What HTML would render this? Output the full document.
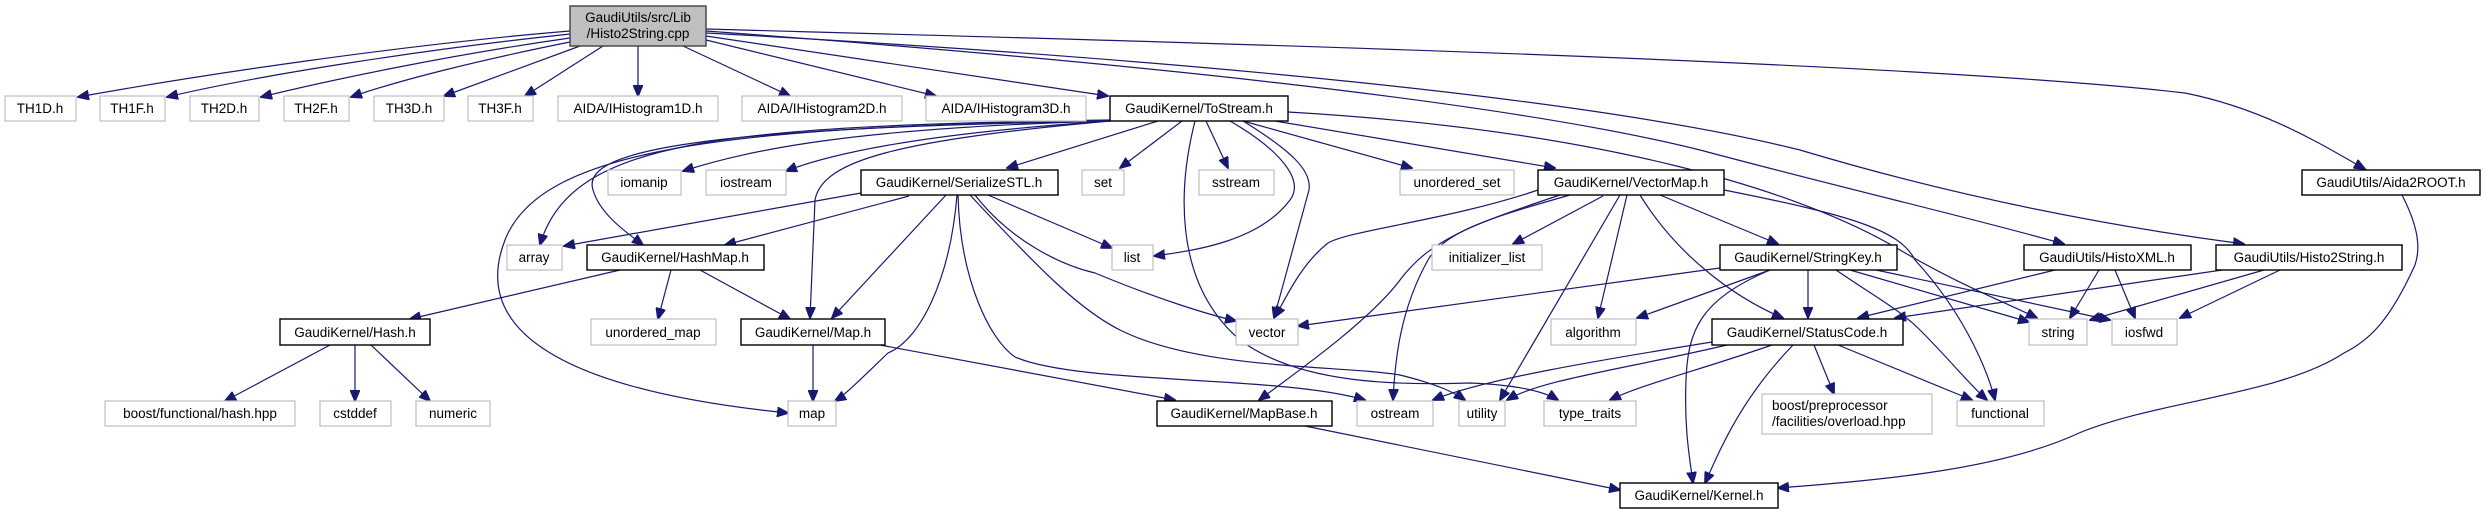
<!DOCTYPE html>
<html><head><meta charset="utf-8"><style>
html,body{margin:0;padding:0;background:#fff;}
svg{display:block;}
text{font-family:"Liberation Sans",sans-serif;font-size:13.5px;fill:#000;text-anchor:middle;}
.g{fill:#fff;stroke:#bfbfbf;stroke-width:1.2;}
.b{fill:#fff;stroke:#000;stroke-width:1.4;}
path{fill:none;stroke:#191970;stroke-width:1.2;}
</style></head><body>
<svg width="2486" height="515" viewBox="0 0 2486 515" xmlns="http://www.w3.org/2000/svg">
<defs><marker id="a" markerWidth="12" markerHeight="10" refX="11" refY="5" orient="auto" markerUnits="userSpaceOnUse"><path d="M0,0 L12,5 L0,10 Z" style="fill:#191970;stroke:#191970;stroke-width:1"/></marker></defs>
<g marker-end="url(#a)">
<!-- cpp edges -->
<path d="M570,31 C400,45 200,75 78,97"/>
<path d="M570,34 C420,50 260,75 167,97"/>
<path d="M570,38 C450,55 330,80 261,97"/>
<path d="M570,42 C480,60 400,80 351,97"/>
<path d="M580,46 L444,96"/>
<path d="M603,46 L525,96"/>
<path d="M638,46 L638,96"/>
<path d="M683,46 L790,96"/>
<path d="M706,40 L936,96"/>
<path d="M706,36 L1108,96"/>
<path d="M706,29 C1100,40 1900,60 2185,93 C2270,110 2330,150 2365,169"/>
<path d="M706,31 C1100,60 1500,100 1700,150 C1850,190 1980,220 2064,244"/>
<path d="M706,33 C1200,60 1600,100 1800,150 C1950,195 2100,225 2244,244"/>
<!-- ToStream edges -->
<path d="M1158,121 L1007,168"/>
<path d="M1182,121 L1120,168"/>
<path d="M1206,121 L1228,168"/>
<path d="M1243,121 L1412,168"/>
<path d="M1275,121 L1555,168"/>
<path d="M1230,121 C1280,150 1305,180 1290,200 C1260,240 1200,250 1154,256"/>
<path d="M1243,121 C1290,150 1312,170 1309,190 L1274,318"/>
<path d="M1195,121 C1180,180 1170,280 1240,340 C1300,385 1400,385 1470,383 C1520,385 1545,392 1558,400"/>
<path d="M1288,112 C1600,130 1800,190 1900,250 C1960,285 2000,300 2037,318"/>
<path d="M1110,121 C850,128 750,150 683,171"/>
<path d="M1110,121 C900,135 820,158 786,171"/>
<path d="M1110,120 C720,126 570,140 540,245"/>
<path d="M1110,121 C700,128 580,150 593,190 C600,215 630,235 643,245"/>
<path d="M1110,121 C720,126 540,150 505,240 C470,330 560,390 788,413"/>
<path d="M1110,121 C900,140 822,160 815,200 L810,318"/>
<!-- SerializeSTL -->
<path d="M861,193 L564,246"/>
<path d="M909,196 L725,245"/>
<path d="M946,195 L832,318"/>
<path d="M957,195 C950,280 920,340 888,353 C865,375 845,395 835,401"/>
<path d="M988,195 L1112,248"/>
<path d="M975,195 C1010,240 1060,265 1095,273 C1160,300 1210,315 1236,321"/>
<path d="M958,195 C960,280 990,340 1015,357 C1080,385 1280,375 1365,400"/>
<path d="M970,195 C1040,270 1080,310 1120,330 C1200,370 1340,365 1400,375 C1440,385 1455,393 1465,400"/>
<!-- VectorMap -->
<path d="M1538,190 C1450,220 1350,230 1328,243 C1300,265 1285,300 1275,317"/>
<path d="M1560,195 C1470,225 1430,240 1400,280 C1370,320 1300,370 1259,400"/>
<path d="M1570,195 C1500,215 1445,230 1428,260 C1400,310 1395,360 1393,400"/>
<path d="M1603,196 L1513,244"/>
<path d="M1620,195 L1500,400"/>
<path d="M1627,195 L1598,318"/>
<path d="M1640,195 C1680,260 1740,300 1783,318"/>
<path d="M1660,195 L1778,244"/>
<path d="M1724,190 C1850,215 1900,230 1915,260 C1970,320 1990,380 1995,400"/>
<!-- StringKey -->
<path d="M1720,268 L1298,326"/>
<path d="M1770,270 L1637,318"/>
<path d="M1808,270 L1808,318"/>
<path d="M1770,270 C1700,300 1688,330 1686,380 C1684,430 1690,460 1693,483"/>
<path d="M1850,270 L2029,322"/>
<path d="M1876,270 L2110,320"/>
<path d="M1836,270 C1880,300 1900,310 1920,330 C1950,360 1970,385 1987,400"/>
<!-- StatusCode -->
<path d="M1712,342 C1600,360 1480,380 1433,400"/>
<path d="M1727,345 C1620,370 1540,380 1507,400"/>
<path d="M1772,345 C1700,370 1640,385 1610,400"/>
<path d="M1793,345 C1740,400 1720,450 1705,483"/>
<path d="M1814,345 L1834,394"/>
<path d="M1838,345 L1972,400"/>
<!-- HistoXML / Histo2String.h -->
<path d="M2055,270 L1858,318"/>
<path d="M2099,270 L2070,318"/>
<path d="M2115,270 L2135,318"/>
<path d="M2222,270 L1895,318"/>
<path d="M2264,270 L2090,320"/>
<path d="M2280,270 L2180,318"/>
<!-- Aida2ROOT -->
<path d="M2402,195 C2420,230 2420,250 2415,265 C2390,320 2370,340 2344,353 C2280,395 2160,400 2079,433 C2000,470 1880,480 1778,488"/>
<!-- HashMap, Hash, Map, MapBase -->
<path d="M620,270 L410,319"/>
<path d="M671,270 L658,319"/>
<path d="M700,270 L790,319"/>
<path d="M330,345 L225,401"/>
<path d="M355,345 L355,401"/>
<path d="M371,345 L430,401"/>
<path d="M813,345 L813,401"/>
<path d="M880,345 L1175,400"/>
<path d="M1305,426 L1620,490"/>
</g>
<!-- nodes -->
<rect x="570" y="6" width="136" height="40" style="fill:#bfbfbf;stroke:#404040;stroke-width:1.4"/>
<text x="638" y="22">GaudiUtils/src/Lib</text><text x="638" y="38">/Histo2String.cpp</text>
<g>
<rect class="g" x="5" y="96" width="71" height="25"/><text x="40" y="113">TH1D.h</text>
<rect class="g" x="100" y="96" width="65" height="25"/><text x="132" y="113">TH1F.h</text>
<rect class="g" x="190" y="96" width="69" height="25"/><text x="224" y="113">TH2D.h</text>
<rect class="g" x="284" y="96" width="65" height="25"/><text x="316" y="113">TH2F.h</text>
<rect class="g" x="374" y="96" width="70" height="25"/><text x="409" y="113">TH3D.h</text>
<rect class="g" x="468" y="96" width="65" height="25"/><text x="500" y="113">TH3F.h</text>
<rect class="g" x="558" y="96" width="160" height="25"/><text x="638" y="113">AIDA/IHistogram1D.h</text>
<rect class="g" x="742" y="96" width="160" height="25"/><text x="822" y="113">AIDA/IHistogram2D.h</text>
<rect class="g" x="926" y="96" width="160" height="25"/><text x="1006" y="113">AIDA/IHistogram3D.h</text>
<rect class="b" x="1110" y="96" width="178" height="25"/><text x="1199" y="113">GaudiKernel/ToStream.h</text>

<rect class="g" x="608" y="170" width="73" height="25"/><text x="644" y="187">iomanip</text>
<rect class="g" x="706" y="170" width="80" height="25"/><text x="746" y="187">iostream</text>
<rect class="b" x="861" y="170" width="197" height="25"/><text x="959" y="187">GaudiKernel/SerializeSTL.h</text>
<rect class="g" x="1082" y="170" width="42" height="25"/><text x="1103" y="187">set</text>
<rect class="g" x="1199" y="170" width="75" height="25"/><text x="1236" y="187">sstream</text>
<rect class="g" x="1400" y="170" width="114" height="25"/><text x="1457" y="187">unordered_set</text>
<rect class="b" x="1538" y="170" width="186" height="25"/><text x="1631" y="187">GaudiKernel/VectorMap.h</text>
<rect class="b" x="2302" y="170" width="178" height="25"/><text x="2391" y="187">GaudiUtils/Aida2ROOT.h</text>

<rect class="g" x="507" y="245" width="55" height="25"/><text x="534" y="262">array</text>
<rect class="b" x="587" y="245" width="177" height="25"/><text x="675" y="262">GaudiKernel/HashMap.h</text>
<rect class="g" x="1112" y="245" width="41" height="25"/><text x="1132" y="262">list</text>
<rect class="g" x="1432" y="245" width="110" height="25"/><text x="1487" y="262">initializer_list</text>
<rect class="b" x="1720" y="245" width="177" height="25"/><text x="1808" y="262">GaudiKernel/StringKey.h</text>
<rect class="b" x="2024" y="245" width="167" height="25"/><text x="2107" y="262">GaudiUtils/HistoXML.h</text>
<rect class="b" x="2216" y="245" width="186" height="25"/><text x="2309" y="262">GaudiUtils/Histo2String.h</text>

<rect class="b" x="280" y="319" width="150" height="26"/><text x="355" y="337">GaudiKernel/Hash.h</text>
<rect class="g" x="591" y="319" width="125" height="26"/><text x="653" y="337">unordered_map</text>
<rect class="b" x="741" y="319" width="144" height="26"/><text x="813" y="337">GaudiKernel/Map.h</text>
<rect class="g" x="1236" y="319" width="62" height="26"/><text x="1267" y="337">vector</text>
<rect class="g" x="1551" y="319" width="85" height="26"/><text x="1593" y="337">algorithm</text>
<rect class="b" x="1712" y="319" width="191" height="26"/><text x="1807" y="337">GaudiKernel/StatusCode.h</text>
<rect class="g" x="2029" y="319" width="58" height="26"/><text x="2058" y="337">string</text>
<rect class="g" x="2112" y="319" width="65" height="26"/><text x="2144" y="337">iosfwd</text>

<rect class="g" x="105" y="401" width="190" height="25"/><text x="200" y="418">boost/functional/hash.hpp</text>
<rect class="g" x="320" y="401" width="71" height="25"/><text x="355" y="418">cstddef</text>
<rect class="g" x="416" y="401" width="74" height="25"/><text x="453" y="418">numeric</text>
<rect class="g" x="788" y="401" width="48" height="25"/><text x="812" y="418">map</text>
<rect class="b" x="1157" y="401" width="175" height="25"/><text x="1244" y="418">GaudiKernel/MapBase.h</text>
<rect class="g" x="1357" y="401" width="76" height="25"/><text x="1395" y="418">ostream</text>
<rect class="g" x="1459" y="401" width="46" height="25"/><text x="1482" y="418">utility</text>
<rect class="g" x="1544" y="401" width="92" height="25"/><text x="1590" y="418">type_traits</text>
<rect class="g" x="1762" y="394" width="170" height="40"/><text x="1772" y="410" style="text-anchor:start">boost/preprocessor</text><text x="1772" y="426" style="text-anchor:start">/facilities/overload.hpp</text>
<rect class="g" x="1957" y="401" width="87" height="25"/><text x="2000" y="418">functional</text>

<rect class="b" x="1620" y="483" width="158" height="25"/><text x="1699" y="500">GaudiKernel/Kernel.h</text>
</g>
</svg>
</body></html>
